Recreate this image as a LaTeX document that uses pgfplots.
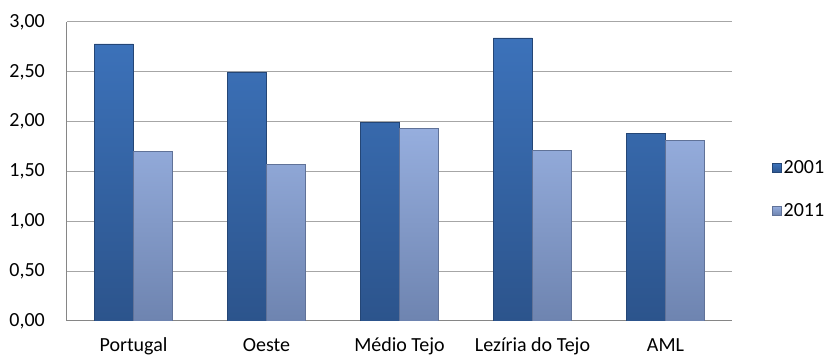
\documentclass[border=0pt]{standalone}
\usepackage{fontspec}
\setmainfont{Carlito}
\usepackage{pgfplots}
\pgfplotsset{compat=1.18}

\definecolor{gridgray}{RGB}{166,166,166}
\definecolor{axisgray}{RGB}{134,134,134}
\definecolor{darktop}{RGB}{60,114,186}
\definecolor{darkbot}{RGB}{44,84,140}
\definecolor{darkedge}{RGB}{36,70,118}
\definecolor{lighttop}{RGB}{150,174,222}
\definecolor{lightbot}{RGB}{110,132,176}
\definecolor{lightedge}{RGB}{96,114,152}

\begin{document}
\begin{tikzpicture}
\useasboundingbox (0,0) rectangle (831pt,356pt);
\begin{axis}[
    at={(67pt,35pt)}, anchor=south west,
    scale only axis,
    width=665pt, height=299pt,
    ybar=0pt, bar width=39pt,
    xmin=-0.5, xmax=4.5,
    ymin=0, ymax=3,
    ytick={0,0.5,...,3},
    xtick={0,1,2,3,4},
    xticklabels={Portugal, Oeste, Médio Tejo, Lezíria do Tejo, AML},
    axis lines*=left,
    axis line style={axisgray, line width=1pt, -},
    ymajorgrids,
    major grid style={gridgray, line width=1pt},
    major tick length=0pt,
    font=\fontsize{20}{24}\selectfont,
    /pgf/number format/assume math mode=true,
    /pgf/number format/fixed,
    /pgf/number format/fixed zerofill,
    /pgf/number format/precision=2,
    /pgf/number format/use comma,
    /pgf/number format/1000 sep={},
    yticklabel style={inner sep=0pt, xshift=-22pt},
    xticklabel style={inner sep=0pt, text height=14pt, text depth=4pt, yshift=-16pt},
    legend style={draw=none, fill=none, inner sep=0pt,
        at={(axis description cs:1.06,0.44)}, anchor=west,
        row sep=24pt,
        font=\fontsize{20}{24}\selectfont},
    legend cell align=left,
]
\addplot[draw=darkedge, line width=0.6pt, top color=darktop, bottom color=darkbot,
    legend image code/.code={\fill[top color=darktop, bottom color=darkbot] (0pt,-4.5pt) rectangle (9pt,4.5pt);}]
    coordinates {(0,2.78) (1,2.50) (2,1.99) (3,2.84) (4,1.88)};
\addplot[draw=lightedge, line width=0.6pt, top color=lighttop, bottom color=lightbot,
    legend image code/.code={\fill[top color=lighttop, bottom color=lightbot] (0pt,-4.5pt) rectangle (9pt,4.5pt);}]
    coordinates {(0,1.70) (1,1.57) (2,1.93) (3,1.71) (4,1.81)};
\legend{2001,2011}
\end{axis}
\end{tikzpicture}
\end{document}
